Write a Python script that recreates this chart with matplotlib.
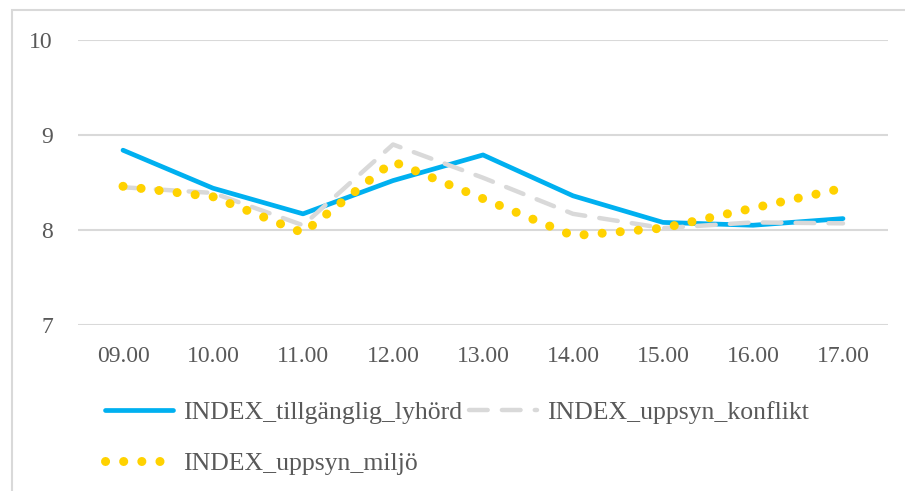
import matplotlib.pyplot as plt
from matplotlib.patches import Rectangle

# data
hours = ["09.00", "10.00", "11.00", "12.00", "13.00", "14.00", "15.00", "16.00", "17.00"]
tillganglig_lyhord = [8.84, 8.44, 8.17, 8.52, 8.79, 8.36, 8.08, 8.05, 8.12]
uppsyn_konflikt = [8.45, 8.39, 8.05, 8.90, 8.55, 8.17, 8.02, 8.08, 8.07]
uppsyn_miljo = [8.46, 8.35, 7.97, 8.72, 8.33, 7.94, 8.02, 8.23, 8.44]
yticks = [7, 8, 9, 10]

W, H = 905, 491
txt = "#595959"
grid = "#D9D9D9"
plt.rcParams["font.family"] = ["Liberation Serif", "DejaVu Serif"]

fig = plt.figure(figsize=(W / 100, H / 100), dpi=100)
# chart border (cropped at right/bottom in the reference)
fig.patches.append(Rectangle((12 / W, -0.05), 1.1, 1 - 10 / H + 0.05,
                             transform=fig.transFigure, fill=False,
                             edgecolor=grid, lw=1.5))

ax = fig.add_axes([78 / W, 1 - 325 / H, (888 - 78) / W, (325 - 40) / H])
x = range(len(hours))

ax.plot(x, tillganglig_lyhord, color="#00B0F0", lw=3.4, solid_capstyle="round",
        solid_joinstyle="round", label="INDEX_tillgänglig_lyhörd", zorder=3)
ax.plot(x, uppsyn_konflikt, color="#D9D9D9", lw=3.2, dashes=(4.2, 3.2),
        dash_capstyle="round", label="INDEX_uppsyn_konflikt", zorder=4)
ax.plot(x, uppsyn_miljo, color="#FFD200", lw=6.5, dashes=(0.01, 2.0),
        dash_capstyle="round", label="INDEX_uppsyn_miljö", zorder=5)

ax.set_xlim(-0.5, len(hours) - 0.5)
ax.set_ylim(7, 10)
ax.set_yticks(yticks)
ax.set_xticks(list(x))
ax.set_xticklabels(hours)
ax.grid(axis="y", color=grid, lw=1.5)
ax.set_axisbelow(True)
for s in ax.spines.values():
    s.set_visible(False)
ax.tick_params(length=0, labelsize=17, labelcolor=txt)
ax.tick_params(axis="y", pad=18)
ax.tick_params(axis="x", pad=15)

h, l = ax.get_legend_handles_labels()
order = [0, 2, 1]
fig.legend([h[i] for i in order], [l[i] for i in order], ncol=2,
           loc="upper left", bbox_to_anchor=(105 / W, 1 - 401 / H),
           frameon=False, fontsize=18.5, labelcolor=txt,
           handlelength=2.65, handletextpad=0.4, columnspacing=0.25,
           labelspacing=1.1, borderaxespad=0, borderpad=0)

fig.savefig("out.png", dpi=100)
